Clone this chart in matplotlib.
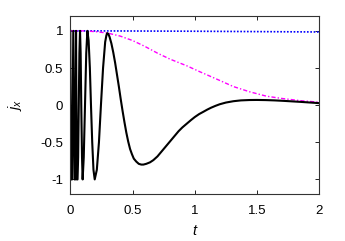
import matplotlib
matplotlib.use("Agg")
import matplotlib.pyplot as plt

plt.rcParams["font.family"] = ["Liberation Sans", "DejaVu Sans"]
plt.rcParams["axes.unicode_minus"] = False
plt.rcParams["mathtext.fontset"] = "custom"
plt.rcParams["mathtext.it"] = "Liberation Sans:italic"
plt.rcParams["mathtext.rm"] = "Liberation Sans"

# black curve: j_x(t), fast oscillation near t=0 then damped
t_black = [0.000, 0.004, 0.014, 0.024, 0.034, 0.040, 0.046, 0.052, 0.058,
           0.063, 0.068, 0.073, 0.078, 0.083, 0.088, 0.094, 0.099,
           0.108, 0.118, 0.128, 0.137,
           0.147, 0.157, 0.166, 0.176, 0.186, 0.196,
           0.213, 0.230, 0.246, 0.263, 0.280, 0.290, 0.297,
           0.305, 0.315, 0.330, 0.345, 0.360, 0.375, 0.390, 0.405, 0.420,
           0.435, 0.450, 0.465, 0.480, 0.495, 0.510, 0.530, 0.550, 0.570,
           0.587, 0.610, 0.640, 0.667, 0.700, 0.730, 0.765, 0.800, 0.835,
           0.870, 0.900, 0.935, 0.970, 1.000, 1.035, 1.068, 1.100, 1.130,
           1.165, 1.200, 1.250, 1.310, 1.370, 1.440, 1.500, 1.570, 1.640,
           1.710, 1.780, 1.850, 1.920, 2.000]
j_black = [1.00, -1.00, -1.00, 1.00, -1.00, -1.00, 1.00, -1.00, -1.00,
           -0.70, 0.00, 0.70, 1.00, 0.70, 0.00, -0.70, -1.00,
           -0.70, 0.00, 0.70, 1.00,
           0.87, 0.50, 0.00, -0.50, -0.87, -1.00,
           -0.87, -0.50, 0.00, 0.50, 0.85, 0.94, 0.97,
           0.96, 0.92, 0.83, 0.71, 0.57, 0.41, 0.25, 0.08, -0.08,
           -0.23, -0.37, -0.49, -0.59, -0.66, -0.72, -0.76, -0.79, -0.80,
           -0.80, -0.79, -0.77, -0.74, -0.69, -0.63, -0.56, -0.49, -0.42,
           -0.35, -0.30, -0.25, -0.20, -0.16, -0.12, -0.09, -0.06, -0.035,
           -0.01, 0.012, 0.035, 0.053, 0.064, 0.069, 0.070, 0.068, 0.064,
           0.058, 0.051, 0.044, 0.036, 0.027]

# magenta dash-dot curve
t_mag = [0.0, 0.1, 0.2, 0.3, 0.4, 0.5, 0.6, 0.7, 0.8, 0.935, 1.04, 1.19,
         1.31, 1.44, 1.577, 1.7, 1.85, 2.0]
j_mag = [1.0, 1.0, 0.99, 0.97, 0.93, 0.87, 0.79, 0.70, 0.62, 0.53, 0.45, 0.34,
         0.25, 0.18, 0.12, 0.09, 0.06, 0.04]

# blue dotted curve
t_blue = [0.0, 0.5, 1.0, 1.5, 2.0]
j_blue = [1.0, 0.998, 0.995, 0.99, 0.985]

fig = plt.figure(figsize=(3.45, 2.41), dpi=100)
ax = fig.add_axes([0.2038, 0.1938, 0.7217, 0.7398])

ax.plot(t_blue, j_blue, color="#0000ff", linestyle=(0, (1, 1.0)), linewidth=1.2)
ax.plot(t_mag, j_mag, color="#ff00ff", linestyle=(0, (3, 1.5, 1, 1.5)), linewidth=1.0)
ax.plot(t_black, j_black, color="black", linewidth=1.5)

ax.set_xlim(0, 2)
ax.set_ylim(-1.2, 1.2)
ax.set_xticks([0, 0.5, 1, 1.5, 2])
ax.set_xticklabels(["0", "0.5", "1", "1.5", "2"])
ax.set_yticks([-1, -0.5, 0, 0.5, 1])
ax.set_yticklabels(["-1", "-0.5", "0", "0.5", "1"])
ax.tick_params(direction="in", top=True, right=True, length=3, width=0.6,
               labelsize=9.5)
ax.tick_params(axis="x", pad=8)
ax.tick_params(axis="y", pad=5)
for s in ax.spines.values():
    s.set_linewidth(0.8)
    s.set_color("#333333")

ax.set_xlabel(r"$t$", fontsize=10.5, labelpad=5)
ax.set_ylabel(r"$j_x$", fontsize=10.5, labelpad=12)

fig.savefig("out.png", dpi=100)
